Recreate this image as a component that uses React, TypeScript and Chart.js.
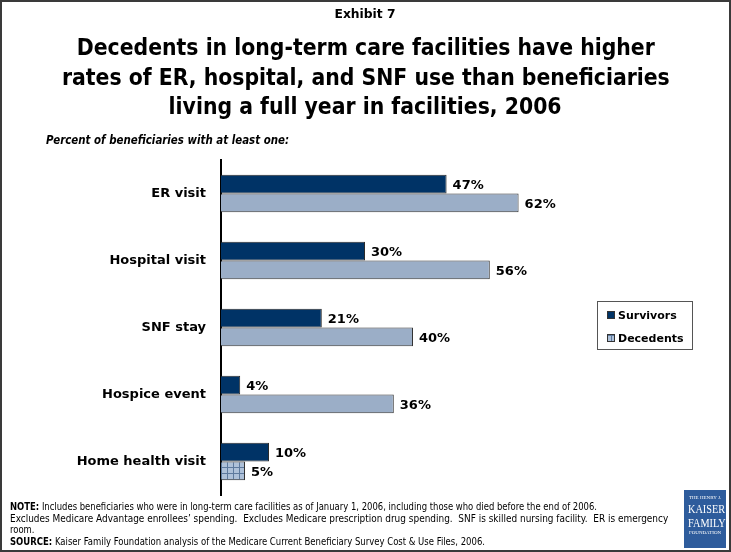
import React, { useEffect, useLayoutEffect, useRef, useState } from 'react';
import { Chart, registerables } from 'chart.js';

Chart.register(...registerables);

// ---------- data ----------
const exhibitLabel = 'Exhibit 7';
const titleLines = [
  'Decedents in long-term care facilities have higher',
  'rates of ER, hospital, and SNF use than beneficiaries',
  'living a full year in facilities, 2006',
];
const subtitle = 'Percent of beneficiaries with at least one:';
const categories = ['ER visit', 'Hospital visit', 'SNF stay', 'Hospice event', 'Home health visit'];
const seriesNames = ['Survivors', 'Decedents'];
const survivorsValues = [47, 30, 21, 4, 10];
const decedentsValues = [62, 56, 40, 36, 5];
const noteBold = ['NOTE:', '', '', 'SOURCE:'];
const noteText = [
  ' Includes beneficiaries who were in long-term care facilities as of January 1, 2006, including those who died before the end of 2006.',
  'Excludes Medicare Advantage enrollees\u2019 spending.  Excludes Medicare prescription drug spending.  SNF is skilled nursing facility.  ER is emergency',
  'room.',
  ' Kaiser Family Foundation analysis of the Medicare Current Beneficiary Survey Cost & Use Files, 2006.',
];
const logoLines = ['THE HENRY J.', 'KAISER', 'FAMILY', 'FOUNDATION'];

// ---------- styles ----------
const W = 731;
const H = 552;
const SURV_COLOR = '#003366';
const DEC_COLOR = '#9BAEC7';

type BlockProps = {
  lines: React.ReactNode[];
  cys: number[];
  font: string;
  lineHeight: number;
  align: 'center' | 'left';
  left?: number;
  refIndex: number;
  refWidth: number;
  widths?: (number | null)[];
};

function ScaledBlock({ lines, cys, font, lineHeight, align, left = 0, refIndex, refWidth, widths }: BlockProps) {
  const refs = useRef<(HTMLSpanElement | null)[]>([]);
  const [ks, setKs] = useState<number[]>(lines.map(() => 1));
  useLayoutEffect(() => {
    const base = refs.current[refIndex];
    const k0 = base && base.offsetWidth > 0 ? refWidth / base.offsetWidth : 1;
    setKs(
      lines.map((_, i) => {
        const w = widths ? widths[i] : null;
        const el = refs.current[i];
        if (w && el && el.offsetWidth > 0) return w / el.offsetWidth;
        return k0;
      })
    );
  }, []);
  return (
    <>
      {lines.map((ln, i) => (
        <div
          key={i}
          style={{
            position: 'absolute',
            top: cys[i] - lineHeight / 2,
            height: lineHeight,
            lineHeight: lineHeight + 'px',
            left: align === 'center' ? 0 : left,
            width: align === 'center' ? W : undefined,
            textAlign: align,
            whiteSpace: 'pre',
            font,
            color: '#000',
          }}
        >
          <span
            ref={(el) => {
              refs.current[i] = el;
            }}
            style={{
              display: 'inline-block',
              transform: `scaleX(${ks[i]})`,
              transformOrigin: align === 'center' ? 'center' : 'left',
            }}
          >
            {ln}
          </span>
        </div>
      ))}
    </>
  );
}

function makeGridPattern(): CanvasPattern | string {
  const pc = document.createElement('canvas');
  pc.width = 6;
  pc.height = 6;
  const p = pc.getContext('2d');
  if (!p) return DEC_COLOR;
  p.fillStyle = '#AEC1D9';
  p.fillRect(0, 0, 6, 6);
  p.fillStyle = '#5E7A9E';
  p.fillRect(5, 0, 1, 6);
  p.fillRect(0, 5, 6, 1);
  const pat = p.createPattern(pc, 'repeat');
  return pat || DEC_COLOR;
}

const valueLabelPlugin = {
  id: 'valueLabels',
  afterDatasetsDraw(chart: any) {
    const ctx = chart.ctx;
    ctx.save();
    ctx.font = 'bold 13px "DejaVu Sans"';
    ctx.fillStyle = '#000';
    ctx.textBaseline = 'middle';
    ctx.textAlign = 'left';
    chart.data.datasets.forEach((ds: any, i: number) => {
      chart.getDatasetMeta(i).data.forEach((el: any, j: number) => {
        ctx.fillText(ds.data[j] + '%', el.x + 6, el.y + 2);
      });
    });
    ctx.restore();
  },
};

const boxLegendPlugin = {
  id: 'boxLegend',
  afterDraw(chart: any, _args: any, opts: any) {
    const ctx = chart.ctx;
    const x0 = 597;
    const y0 = 301;
    const w = 95;
    const h = 48;
    ctx.save();
    ctx.fillStyle = '#fff';
    ctx.fillRect(x0, y0, w, h);
    ctx.strokeStyle = '#555';
    ctx.lineWidth = 1;
    ctx.strokeRect(x0 + 0.5, y0 + 0.5, w, h);
    ctx.font = 'bold 11px "DejaVu Sans"';
    ctx.textBaseline = 'middle';
    chart.data.datasets.forEach((ds: any, i: number) => {
      const cy = y0 + 14 + i * 23;
      ctx.fillStyle = opts.swatches[i];
      ctx.fillRect(607, cy - 4, 8, 8);
      ctx.strokeStyle = '#333';
      ctx.strokeRect(607.5, cy - 3.5, 7, 7);
      ctx.fillStyle = '#000';
      ctx.fillText(ds.label, 618, cy + 1);
    });
    ctx.restore();
  },
};

function BarChart() {
  const canvasRef = useRef<HTMLCanvasElement | null>(null);
  useEffect(() => {
    const canvas = canvasRef.current;
    if (!canvas) return;
    const grid = makeGridPattern();
    const chart = new Chart(canvas, {
      type: 'bar',
      data: {
        labels: categories,
        datasets: [
          {
            label: seriesNames[0],
            data: survivorsValues,
            backgroundColor: SURV_COLOR,
            borderColor: '#2b2b2b',
            borderWidth: 1,
            categoryPercentage: 0.56,
            barPercentage: 1,
          },
          {
            label: seriesNames[1],
            data: decedentsValues,
            backgroundColor: decedentsValues.map((_, i) => (i === categories.length - 1 ? grid : DEC_COLOR)) as any,
            borderColor: '#333',
            borderWidth: 1,
            categoryPercentage: 0.56,
            barPercentage: 1,
          },
        ],
      },
      options: {
        indexAxis: 'y',
        responsive: false,
        animation: false,
        devicePixelRatio: 1,
        layout: { padding: { left: 0, top: 160, right: 174, bottom: 57 } },
        scales: {
          x: { display: false, min: 0, max: 70 },
          y: {
            grid: { display: false, drawTicks: false },
            border: { display: true, color: '#000', width: 2 },
            ticks: {
              color: '#000',
              padding: 15,
              font: { family: '"DejaVu Sans"', weight: 'bold', size: 13 },
            },
            afterFit: (scale: any) => {
              scale.width = 221;
            },
          },
        },
        plugins: {
          legend: { display: false },
          tooltip: { enabled: false },
          boxLegend: { swatches: [SURV_COLOR, grid] },
        } as any,
      },
      plugins: [valueLabelPlugin, boxLegendPlugin],
    });
    return () => chart.destroy();
  }, []);
  return (
    <canvas
      ref={canvasRef}
      width={W}
      height={H}
      style={{ position: 'absolute', left: 0, top: 0, width: W, height: H, display: 'block' }}
    />
  );
}

const logoWord: React.CSSProperties = {
  display: 'inline-block',
  fontSize: 12.5,
  transform: 'scaleX(0.82)',
  transformOrigin: 'center',
  whiteSpace: 'nowrap',
};

export default function App() {
  return (
    <div
      style={{
        position: 'absolute',
        left: 0,
        top: 0,
        width: W,
        height: H,
        background: '#fff',
        overflow: 'hidden',
      }}
    >
      <BarChart />
      <ScaledBlock
        lines={[exhibitLabel]}
        cys={[14]}
        font='bold 13px "DejaVu Sans Condensed", "DejaVu Sans", sans-serif'
        lineHeight={16}
        align="center"
        refIndex={0}
        refWidth={61}
      />
      <ScaledBlock
        lines={titleLines}
        cys={[48, 78, 107]}
        font='bold 23px "DejaVu Sans Condensed", "DejaVu Sans", sans-serif'
        lineHeight={29}
        align="center"
        refIndex={1}
        refWidth={608}
      />
      <ScaledBlock
        lines={[subtitle]}
        cys={[140]}
        font='italic bold 13px "DejaVu Sans Condensed", "DejaVu Sans", sans-serif'
        lineHeight={16}
        align="left"
        left={46}
        refIndex={0}
        refWidth={243}
      />
      <ScaledBlock
        lines={noteText.map((t, i) => (
          <>
            {noteBold[i] ? <b>{noteBold[i]}</b> : null}
            {t}
          </>
        ))}
        cys={[506, 517.5, 529, 541]}
        font='10.5px "DejaVu Sans Condensed", "DejaVu Sans", sans-serif'
        lineHeight={12}
        align="left"
        left={10}
        refIndex={0}
        refWidth={587}
        widths={[587, 658, null, 475]}
      />
      <div
        style={{
          position: 'absolute',
          left: 684,
          top: 490,
          width: 42,
          height: 58,
          background: '#2E5C9C',
          color: '#fff',
          fontFamily: '"Liberation Serif", "DejaVu Serif", serif',
          textAlign: 'center',
          overflow: 'hidden',
        }}
      >
        <div style={{ fontSize: 5, lineHeight: '7px', marginTop: 4, whiteSpace: 'nowrap' }}>{logoLines[0]}</div>
        <div style={{ lineHeight: '14px', height: 14 }}>
          <span style={logoWord}>{logoLines[1]}</span>
        </div>
        <div style={{ lineHeight: '13px', height: 13 }}>
          <span style={logoWord}>{logoLines[2]}</span>
        </div>
        <div style={{ fontSize: 5, lineHeight: '9px', whiteSpace: 'nowrap' }}>{logoLines[3]}</div>
      </div>
      <div
        style={{
          position: 'absolute',
          left: 0,
          top: 0,
          width: W,
          height: H,
          border: '2px solid #3a3a3a',
          boxSizing: 'border-box',
          pointerEvents: 'none',
        }}
      />
    </div>
  );
}
